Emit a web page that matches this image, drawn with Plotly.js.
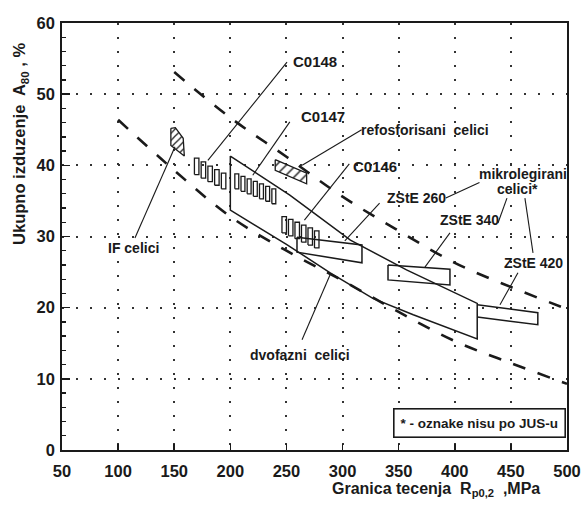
<!DOCTYPE html>
<html><head><meta charset="utf-8">
<script src="https://cdn.plot.ly/plotly-3.0.1.min.js"></script>
<style>html,body{margin:0;padding:0;background:#fff;}#chart{width:583px;height:508px;}</style>
</head><body><div id="chart"></div>
<script>
// ---------- data ----------
const upperDashX = [150, 200, 250, 300, 350, 400, 450, 500];
const upperDashY = [53.1, 46.7, 41.2, 35.6, 30.8, 26.3, 22.9, 19.8];
const lowerDashX = [100, 150, 200, 250, 300, 350, 400, 450, 500];
const lowerDashY = [46.4, 39.3, 32.8, 28.0, 23.8, 19.4, 15.3, 12.2, 9.3];

const dualTopX = [200, 253, 307, 357, 420];
const dualTopY = [41.3, 35.8, 29.5, 25.3, 20.6];
const dualBotX = [200, 250, 289, 327, 363, 420];
const dualBotY = [33.7, 28.9, 24.9, 21.3, 19.0, 15.6];

const ifX = [147, 151, 158, 159, 147, 147];
const ifY = [45.2, 45.3, 43.8, 41.3, 42.8, 45.2];
const refosX = [240, 268, 268, 240, 240];
const refosY = [40.8, 38.9, 37.4, 39.3, 40.8];

const zste260X = [259.4, 317.3, 317.3, 259.4, 259.4];
const zste260Y = [29.9, 28.8, 26.3, 27.8, 29.9];
const zste340X = [340.5, 395.7, 395.7, 340.5, 340.5];
const zste340Y = [26.0, 25.4, 23.2, 23.9, 26.0];
const zste420X = [420, 474, 474, 420];
const zste420Y = [20.4, 19.3, 17.6, 18.7];

const c0148L = [168, 174, 180, 186, 192];
const c0148R = [172, 178, 184, 190, 196];
const c0148T = [41.0, 40.5, 39.9, 39.4, 38.9];
const c0148B = [38.7, 38.2, 37.7, 37.2, 36.7];
const c0147L = [204, 209.5, 215, 220.5, 226, 231.5, 237];
const c0147R = [207.5, 213, 218.5, 224, 229.5, 235, 240.5];
const c0147T = [38.8, 38.45, 38.1, 37.75, 37.4, 37.05, 36.7];
const c0147B = [36.7, 36.35, 36.0, 35.65, 35.3, 34.95, 34.6];
const c0146L = [246, 251.8, 257.6, 263.4, 269.2, 275];
const c0146R = [250, 255.8, 261.6, 267.4, 273.2, 279];
const c0146T = [32.8, 32.4, 32.0, 31.6, 31.2, 30.8];
const c0146B = [30.5, 30.1, 29.7, 29.2, 28.8, 28.4];

// leader lines: start and end points
const leadX0 = [250.5, 253, 317, 306, 333, 422, 446.5, 462.5, 395.7, 456.3, 115, 263.9];
const leadY0 = [54.5, 46.1, 45.0, 40.2, 34.7, 37.6, 35.4, 35.4, 30.5, 24.9, 29.8, 15.5];
const leadX1 = [180, 220, 264, 266, 302, 392, 438.5, 469.7, 373.4, 440.3, 150.7, 288.8];
const leadY1 = [40.7, 38.6, 40.0, 32.3, 29.4, 35.4, 31.9, 27.7, 25.7, 20.4, 42.6, 24.6];

const labelText = ['C0148', 'C0147', 'refosforisani  celici', 'C0146', 'ZStE 260',
  'mikrolegirani', 'celici*', 'ZStE 340', 'ZStE 420', 'IF celici', 'dvofazni  celici'];
const labelX = [275.5, 283, 373.5, 329, 365.5, 461, 455.5, 413.5, 469.7, 114, 262];
const labelY = [54.6, 46.9, 45.0, 39.9, 35.4, 38.8, 36.7, 32.3, 26.3, 28.4, 13.3];

const xTicks = [50, 100, 150, 200, 250, 300, 350, 400, 450, 500];
const yTicks = [0, 10, 20, 30, 40, 50, 60];

// ---------- build traces ----------
const ink = '#1a1a1a';
function rectTrace(L, R, T, B) {
  const x = [], y = [];
  for (let i = 0; i < L.length; i++) {
    x.push(L[i], R[i], R[i], L[i], L[i], null);
    y.push(B[i], B[i], T[i], T[i], B[i], null);
  }
  return {x, y, mode: 'lines', line: {color: ink, width: 1.3}, hoverinfo: 'skip', showlegend: false};
}
function pairsTrace(X0, Y0, X1, Y1) {
  const x = [], y = [];
  for (let i = 0; i < X0.length; i++) { x.push(X0[i], X1[i], null); y.push(Y0[i], Y1[i], null); }
  return {x, y, mode: 'lines', line: {color: ink, width: 1.1}, hoverinfo: 'skip', showlegend: false};
}
const polyLine = (x, y, w) => ({x, y, mode: 'lines', line: {color: ink, width: w || 1.5}, hoverinfo: 'skip', showlegend: false});

const dualX = dualTopX.concat(dualBotX.slice().reverse(), [dualTopX[0]]);
const dualY = dualTopY.concat(dualBotY.slice().reverse(), [dualTopY[0]]);

const traces = [
  {x: upperDashX, y: upperDashY, mode: 'lines', line: {color: ink, width: 2.6, dash: '13px,13px', shape: 'spline'}, hoverinfo: 'skip', showlegend: false},
  {x: lowerDashX, y: lowerDashY, mode: 'lines', line: {color: ink, width: 2.6, dash: '13px,13px', shape: 'spline'}, hoverinfo: 'skip', showlegend: false},
  {x: dualX, y: dualY, mode: 'lines', line: {color: ink, width: 1.5}, hoverinfo: 'skip', showlegend: false},
  {x: ifX, y: ifY, mode: 'lines', fill: 'toself', fillcolor: 'white',
   fillpattern: {shape: '/', size: 5, solidity: 0.25, fgcolor: ink, bgcolor: 'white'},
   line: {color: ink, width: 1.3}, hoverinfo: 'skip', showlegend: false},
  {x: refosX, y: refosY, mode: 'lines', fill: 'toself', fillcolor: 'white',
   fillpattern: {shape: '/', size: 7, solidity: 0.2, fgcolor: ink, bgcolor: 'white'},
   line: {color: ink, width: 1.3}, hoverinfo: 'skip', showlegend: false},
  polyLine(zste260X, zste260Y),
  polyLine(zste340X, zste340Y),
  polyLine(zste420X, zste420Y),
  rectTrace(c0148L, c0148R, c0148T, c0148B),
  rectTrace(c0147L, c0147R, c0147T, c0147B),
  rectTrace(c0146L, c0146R, c0146T, c0146B),
  pairsTrace(leadX0, leadY0, leadX1, leadY1)
];

const fontFam = '"Liberation Sans", Arial, sans-serif';
const annotations = labelText.map((t, i) => ({
  x: labelX[i], y: labelY[i], xref: 'x', yref: 'y', text: t, showarrow: false,
  xanchor: 'center', yanchor: 'middle',
  font: {family: fontFam, size: (t === 'C0148' || t === 'C0147' || t === 'C0146') ? 15 : 14, color: ink, weight: 'bold'}
}));
annotations.push({
  xref: 'paper', yref: 'paper', x: 0.826, y: 0.063, text: '* - oznake nisu po JUS-u', showarrow: false,
  xanchor: 'center', yanchor: 'middle',
  font: {family: fontFam, size: 13.5, color: ink, weight: 'bold'},
  bordercolor: ink, borderwidth: 1.6, borderpad: 6, bgcolor: 'white'
});
annotations.push({
  xref: 'paper', yref: 'paper', x: 0.74, y: -0.093, text: 'Granica tecenja  R<sub>p0,2</sub>  ,MPa', showarrow: false,
  font: {family: fontFam, size: 16, color: ink, weight: 'bold'}, xanchor: 'center', yanchor: 'middle'
});
annotations.push({
  xref: 'paper', yref: 'paper', x: -0.083, y: 0.717, text: 'Ukupno izduzenje  A<sub>80</sub> , %', showarrow: false,
  textangle: -90, font: {family: fontFam, size: 16.5, color: ink, weight: 'bold'}, xanchor: 'center', yanchor: 'middle'
});

const axisCommon = {
  showline: true, linecolor: ink, linewidth: 1.8, mirror: true, zeroline: false,
  ticks: 'inside', tickcolor: ink, tickwidth: 1.6,
  showgrid: true, gridcolor: '#333', gridwidth: 2, griddash: '2px,12px',
  tickfont: {family: fontFam, size: 16.5, color: ink, weight: 'bold'}
};
const layout = {
  width: 583, height: 508,
  margin: {l: 62, r: 16, t: 23, b: 58},
  paper_bgcolor: 'white', plot_bgcolor: 'white',
  showlegend: false,
  xaxis: Object.assign({}, axisCommon, {range: [50, 500], tickvals: xTicks, ticklen: 6, ticklabelstandoff: 5}),
  yaxis: Object.assign({}, axisCommon, {range: [0, 60], tickvals: yTicks, ticklen: 8, ticklabelstandoff: 2,
    minor: {dtick: 2, ticks: 'inside', ticklen: 4, tickcolor: ink, tickwidth: 1.3, showgrid: false}}),
  annotations: annotations
};
Plotly.newPlot('chart', traces, layout, {staticPlot: true, displayModeBar: false});
</script></body></html>
